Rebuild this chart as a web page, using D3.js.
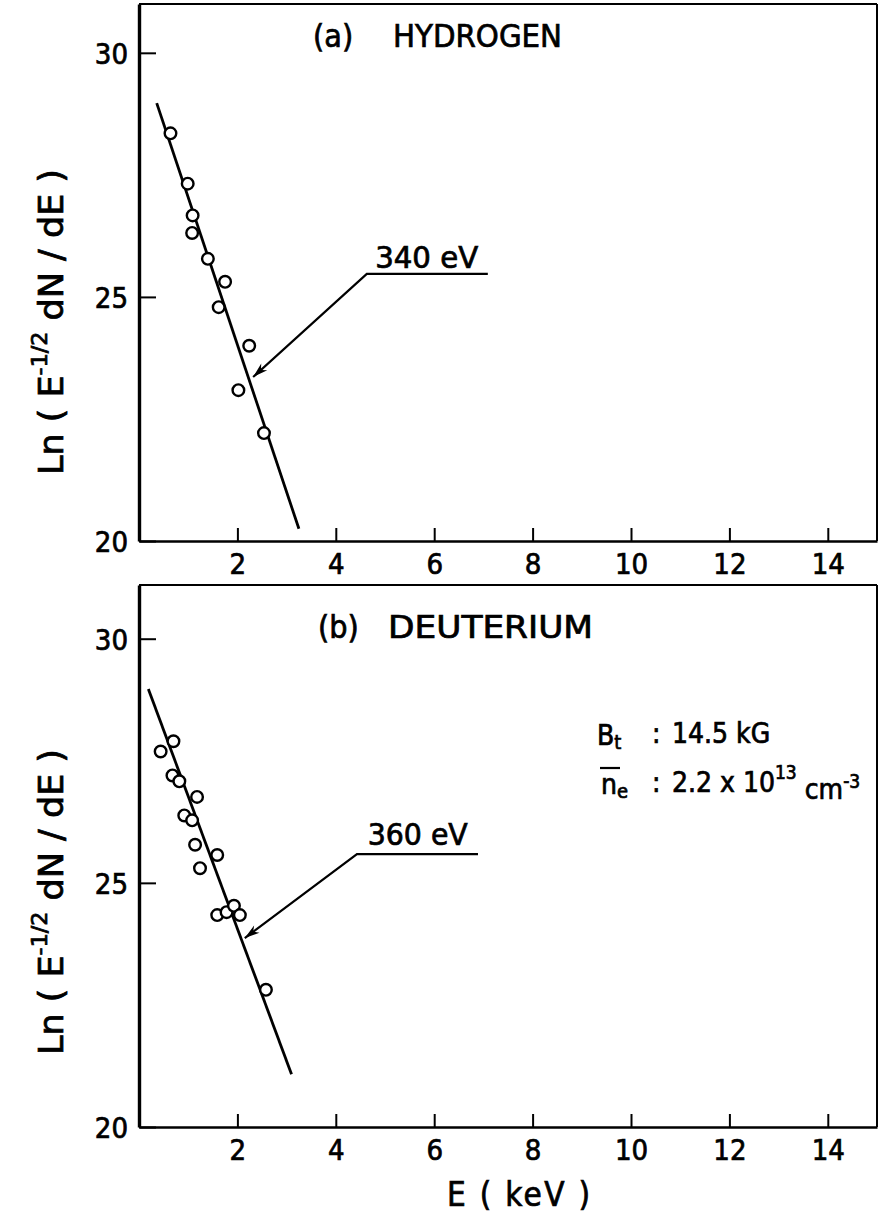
<!DOCTYPE html>
<html>
<head>
<meta charset="utf-8">
<script src="https://cdn.jsdelivr.net/npm/d3@7"></script>
<style>
  body { margin: 0; background: #fff; }
  svg { display: block; }
  text { font-family: "DejaVu Sans Condensed", "Liberation Sans Narrow", "Liberation Sans", sans-serif;
         fill: #000; stroke: #000; stroke-width: 0.7px; }
</style>
</head>
<body>
<svg id="chart" width="887" height="1218"></svg>
<script>
// (a) hydrogen: energy (keV) and Ln(E^-1/2 dN/dE)
const hydrogenE  = [0.64, 0.99, 1.09, 1.08, 1.40, 1.75, 1.62, 2.24, 2.02, 2.54];
const hydrogenLn = [28.35, 27.32, 26.67, 26.31, 25.78, 25.31, 24.79, 24.00, 23.09, 22.21];
const hydrogenFitE  = [0.36, 3.25];
const hydrogenFitLn = [28.97, 20.25];

// (b) deuterium
const deuteriumE  = [0.70, 0.44, 0.68, 0.82, 1.18, 0.92, 1.08, 1.14, 1.59, 1.24, 1.59, 1.78, 1.93, 2.05, 2.58];
const deuteriumLn = [27.90, 27.69, 27.20, 27.08, 26.76, 26.38, 26.28, 25.78, 25.57, 25.30, 24.34, 24.40, 24.53, 24.34, 22.81];
const deuteriumFitE  = [0.19, 3.10];
const deuteriumFitLn = [28.97, 21.08];

const xTicks = [2, 4, 6, 8, 10, 12, 14];
const yTicks = [20, 25, 30];
const xDomain = [0, 15];

const svg = d3.select("#chart");
const left = 139, right = 877;
const x = d3.scaleLinear().domain(xDomain).range([left, right]);

const panels = [
  {
    top: 4, bottom: 541, yMax: 31.0,
    tag: "(a)", name: "HYDROGEN", tagX: 313, nameX: 393, nameLen: 169, titleY: 47,
    E: hydrogenE, L: hydrogenLn, fitE: hydrogenFitE, fitL: hydrogenFitLn,
    note: "340 eV", tip: [2.32, 23.36], elbow: [4.63, 25.47], endE: 7.09, noteAt: [4.80, 25.59], noteLen: 103,
    titleCenter: 322
  },
  {
    top: 585, bottom: 1127, yMax: 31.1,
    tag: "(b)", name: "DEUTERIUM", tagX: 318, nameX: 388, nameLen: 205, titleY: 638,
    E: deuteriumE, L: deuteriumLn, fitE: deuteriumFitE, fitL: deuteriumFitLn,
    note: "360 eV", tip: [2.15, 23.87], elbow: [4.43, 25.59], endE: 6.89, noteAt: [4.65, 25.78], noteLen: 100,
    titleCenter: 902
  }
];

panels.forEach(p => {
  const y = d3.scaleLinear().domain([20, p.yMax]).range([p.bottom, p.top]);
  const g = svg.append("g");

  // frame
  g.append("line").attr("x1", left).attr("x2", right).attr("y1", p.top).attr("y2", p.top)
    .attr("stroke", "#000").attr("stroke-width", 2);
  g.append("line").attr("x1", right).attr("x2", right).attr("y1", p.top).attr("y2", p.bottom)
    .attr("stroke", "#000").attr("stroke-width", 2);

  // axes with inward ticks
  const yAxis = d3.axisLeft(y).tickValues(yTicks).tickSizeInner(-17).tickSizeOuter(0).tickPadding(11)
    .tickFormat(d3.format("d"));
  const ya = g.append("g").attr("transform", `translate(${left},0)`).call(yAxis);
  ya.select(".domain").attr("stroke-width", 3.4);
  ya.selectAll(".tick line").attr("stroke-width", 2);
  ya.selectAll(".tick text").style("font-size", "29px").attr("dy", "0.36em");

  const xAxis = d3.axisBottom(x).tickValues(xTicks).tickSizeInner(-13).tickSizeOuter(0).tickPadding(9)
    .tickFormat(d3.format("d"));
  const xa = g.append("g").attr("transform", `translate(0,${p.bottom})`).call(xAxis);
  xa.select(".domain").attr("stroke-width", 2.6);
  xa.selectAll(".tick line").attr("stroke-width", 2);
  xa.selectAll(".tick text").style("font-size", "29px").attr("dy", "0.82em");

  // panel title
  g.append("text").attr("x", p.tagX).attr("y", p.titleY).style("font-size", "32px").text(p.tag);
  g.append("text").attr("x", p.nameX).attr("y", p.titleY).style("font-size", "32px")
    .attr("textLength", p.nameLen).attr("lengthAdjust", "spacingAndGlyphs").text(p.name);

  // fitted line
  g.append("line")
    .attr("x1", x(p.fitE[0])).attr("y1", y(p.fitL[0]))
    .attr("x2", x(p.fitE[1])).attr("y2", y(p.fitL[1]))
    .attr("stroke", "#000").attr("stroke-width", 2.8);

  // data points
  g.selectAll("circle").data(p.E.map((e, i) => [e, p.L[i]])).join("circle")
    .attr("cx", d => x(d[0])).attr("cy", d => y(d[1])).attr("r", 5.8)
    .attr("fill", "#fff").attr("stroke", "#000").attr("stroke-width", 2.4);

  // temperature callout with leader and arrow
  const tx = x(p.tip[0]), ty = y(p.tip[1]);
  const ex = x(p.elbow[0]), ey = y(p.elbow[1]);
  g.append("polyline")
    .attr("points", [[x(p.endE), ey], [ex, ey], [tx, ty]].map(d => d.join(",")).join(" "))
    .attr("fill", "none").attr("stroke", "#000").attr("stroke-width", 2.2);
  const ang = Math.atan2(ty - ey, tx - ex);
  const hl = 15, hw = 4.5;
  const bx = tx - hl * Math.cos(ang), by = ty - hl * Math.sin(ang);
  const nx = -Math.sin(ang), ny = Math.cos(ang);
  g.append("path")
    .attr("d", `M${tx},${ty}L${bx + nx * hw},${by + ny * hw}L${bx + 0.3 * hl * Math.cos(ang)},${by + 0.3 * hl * Math.sin(ang)}L${bx - nx * hw},${by - ny * hw}Z`)
    .attr("fill", "#000");
  g.append("text").attr("x", x(p.noteAt[0])).attr("y", y(p.noteAt[1]))
    .style("font-size", "30px").attr("textLength", p.noteLen).attr("lengthAdjust", "spacingAndGlyphs")
    .text(p.note);

  // y-axis title
  const t = g.append("text")
    .attr("transform", `translate(63,${p.titleCenter}) rotate(-90)`)
    .attr("text-anchor", "middle").style("font-size", "33px")
    .attr("textLength", 306).attr("lengthAdjust", "spacingAndGlyphs");
  t.append("tspan").text("Ln ( E");
  t.append("tspan").attr("dy", "-0.75em").style("font-size", "21px").text("-1/2");
  t.append("tspan").attr("dy", "0.48em").text(" dN / dE )");
});

// operating conditions for the deuterium discharge
const cond = svg.append("g").style("font-size", "28px");
const b = cond.append("text").attr("x", 597).attr("y", 745);
b.append("tspan").text("B");
b.append("tspan").attr("dy", "0.2em").style("font-size", "20px").text("t");
b.append("tspan").attr("x", 652).attr("dy", "-0.2em").text(":");
b.append("tspan").attr("x", 672).text("14.5 kG");

const n = cond.append("text").attr("x", 601).attr("y", 794);
n.append("tspan").text("n");
n.append("tspan").attr("dy", "0.2em").style("font-size", "20px").text("e");
n.append("tspan").attr("x", 652).attr("dy", "-0.2em").text(":");
n.append("tspan").attr("x", 672).text("2.2 x 10");
n.append("tspan").attr("dy", "-0.7em").style("font-size", "19px").text("13");
n.append("tspan").attr("dy", "0.7em").text(" cm");
n.append("tspan").attr("dy", "-0.55em").style("font-size", "19px").text("-3");
cond.append("line").attr("x1", 600).attr("x2", 620).attr("y1", 768).attr("y2", 768)
  .attr("stroke", "#000").attr("stroke-width", 2.2);

// energy axis title
svg.append("text").attr("x", 447).attr("y", 1206).style("font-size", "33px")
  .attr("textLength", 143).attr("lengthAdjust", "spacing").text("E  ( keV )");
</script>
</body>
</html>
